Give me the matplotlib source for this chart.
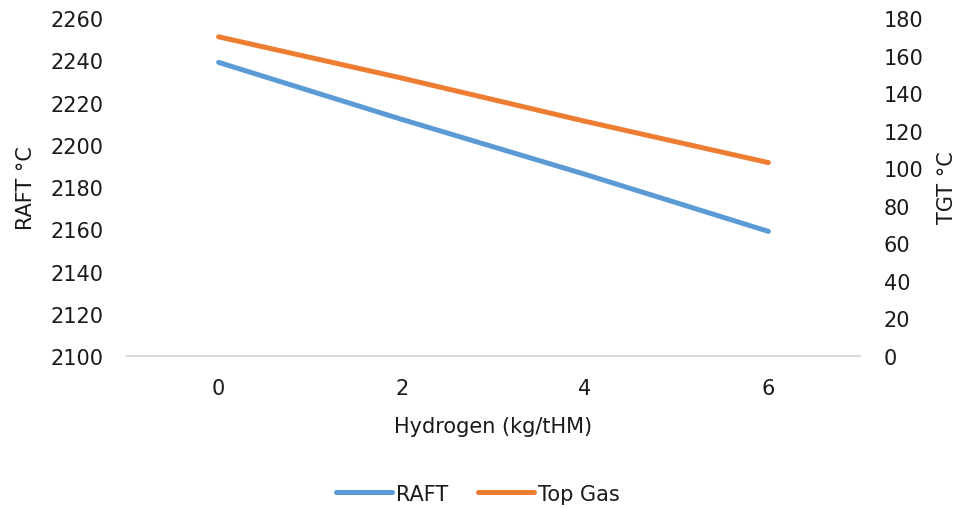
import matplotlib
matplotlib.use("Agg")
import matplotlib.pyplot as plt

# Hydrogen injection vs. flame / top gas temperature
hydrogen = ["0", "2", "4", "6"]
raft = [2239, 2212, 2186, 2159]
top_gas = [170, 148, 125, 103]

plt.rcParams["font.family"] = ["DejaVu Sans"]
TEXT = "#1a1a1a"
FS = 15

fig = plt.figure(figsize=(9.56, 5.1), dpi=100)
ax1 = fig.add_axes([0.1328, 0.3, 0.7668, 0.6627])
ax2 = ax1.twinx()

x = range(len(hydrogen))
l1, = ax1.plot(x, raft, color="#5B9BD5", lw=3.6, solid_capstyle="round", label="RAFT")
l2, = ax2.plot(x, top_gas, color="#ED7D31", lw=3.6, solid_capstyle="round", label="Top Gas")

ax1.set_xlim(-0.5, 3.5)
ax1.set_ylim(2100, 2260)
ax1.set_yticks(range(2100, 2261, 20))
ax2.set_ylim(0, 180)
ax2.set_yticks(range(0, 181, 20))
ax1.set_xticks(list(x))
ax1.set_xticklabels(hydrogen)

for a in (ax1, ax2):
    for s in a.spines.values():
        s.set_visible(False)
    a.tick_params(length=0, labelsize=FS, colors=TEXT)
ax1.spines["bottom"].set_visible(True)
ax1.spines["bottom"].set_color("#d9d9d9")
ax1.spines["bottom"].set_linewidth(1.5)
ax1.tick_params(axis="x", pad=16)
ax1.tick_params(axis="y", pad=17)
ax2.tick_params(axis="y", pad=17)

ax1.set_xlabel("Hydrogen (kg/tHM)", fontsize=FS, color=TEXT, labelpad=13)
ax1.set_ylabel("RAFT °C", fontsize=FS, color=TEXT, labelpad=10)
ax2.set_ylabel("TGT °C", fontsize=FS, color=TEXT, labelpad=10)

fig.legend(handles=[l1, l2], loc="center", bbox_to_anchor=(0.5, 0.03),
           ncol=2, frameon=False, fontsize=FS, handlelength=2.7,
           handletextpad=0.2, columnspacing=1.4, labelcolor=TEXT)

fig.savefig("out.png", dpi=100)
